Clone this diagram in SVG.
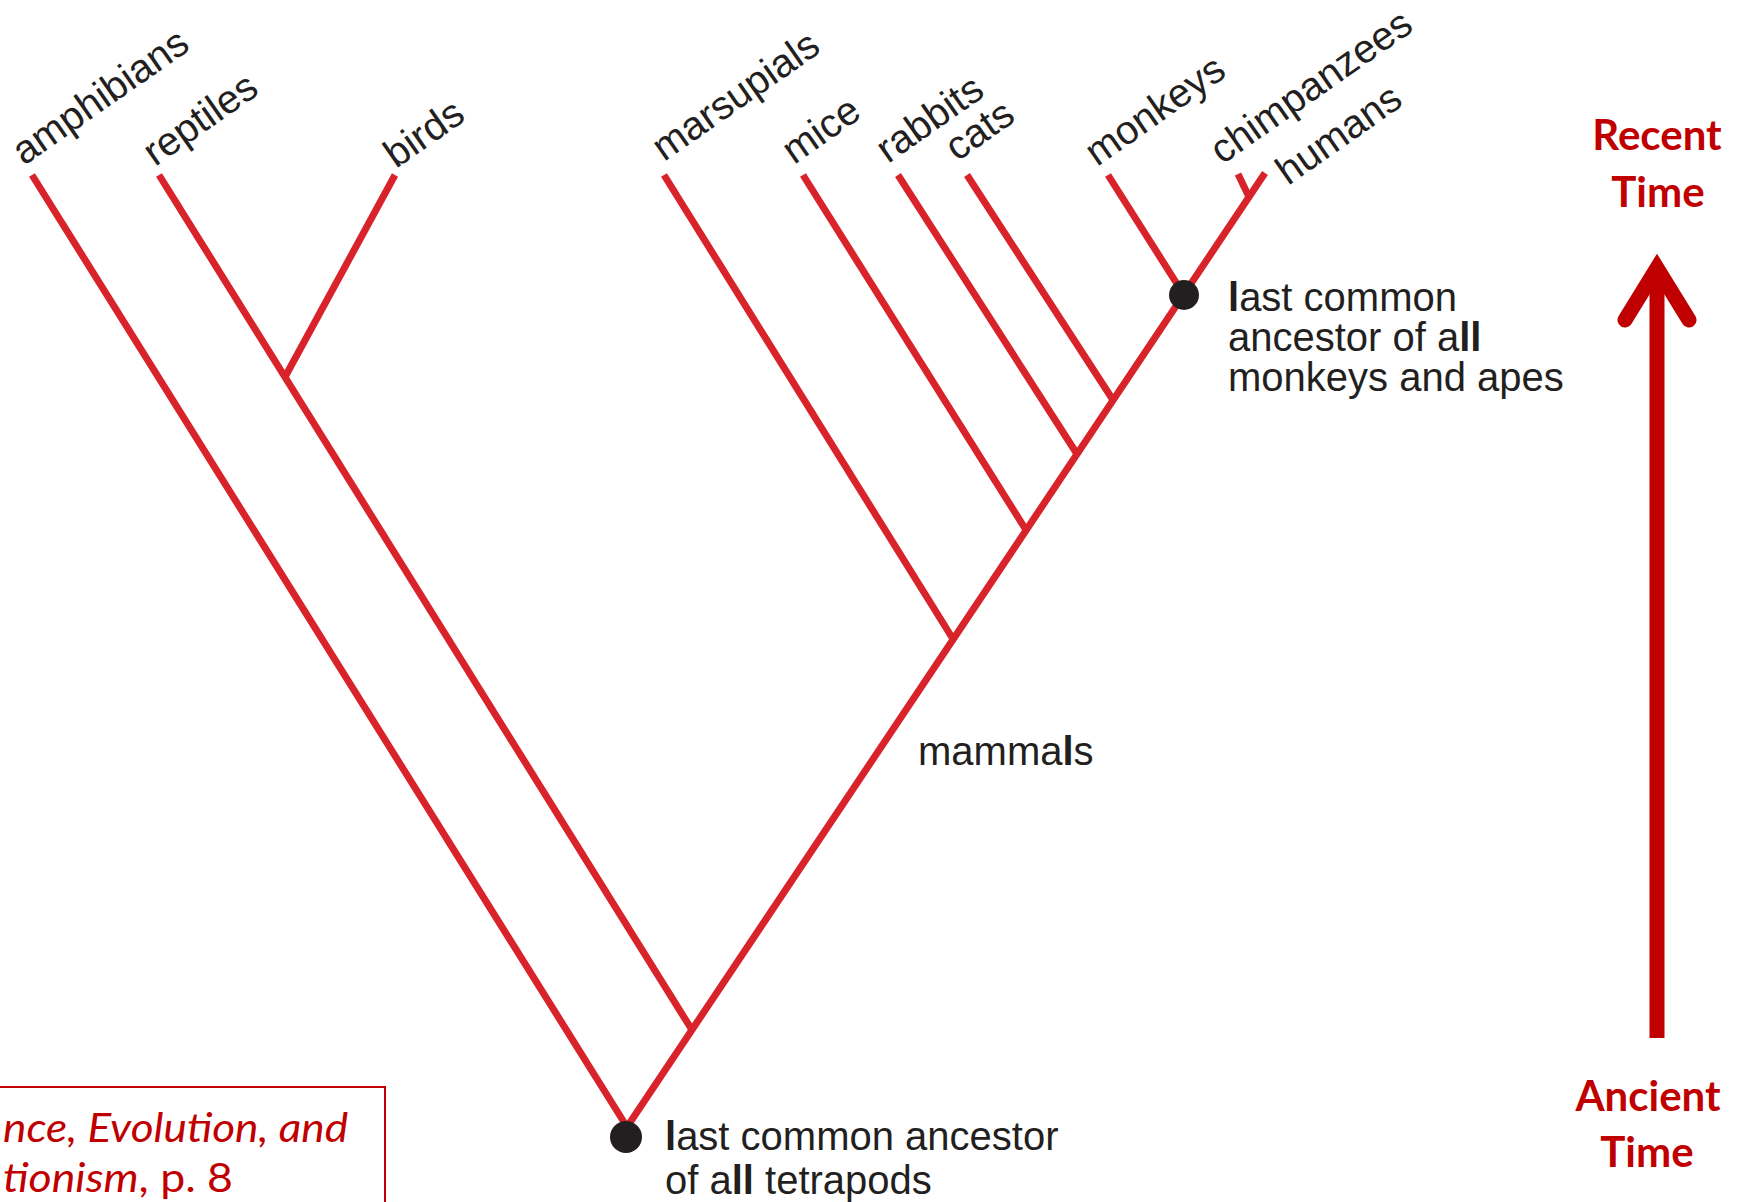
<svg xmlns="http://www.w3.org/2000/svg" width="1743" height="1202" viewBox="0 0 1743 1202">
<style>
.br{stroke:#D8232A;stroke-width:7;fill:none;stroke-linecap:butt}
.lb{font-family:"Liberation Sans",Arial,sans-serif;font-size:40px;fill:#231F20}
.b{font-weight:bold}
.dot{fill:#231F20}
.tm{font-family:Lato,"Open Sans",sans-serif;font-weight:bold;font-size:42px;fill:#C00000;text-anchor:middle}
.src{font-family:Lato,"Open Sans",sans-serif;font-size:40px;fill:#C00000}
</style>
<rect width="1743" height="1202" fill="#FFFFFF"/>
<g id="connectors">
<line class="br" x1="627" y1="1127" x2="1265" y2="173"/>
<line class="br" x1="627" y1="1127" x2="32" y2="175"/>
<line class="br" x1="692" y1="1030" x2="159" y2="175"/>
<line class="br" x1="285" y1="377" x2="395" y2="175"/>
<line class="br" x1="953" y1="639" x2="664" y2="175"/>
<line class="br" x1="1026" y1="530" x2="803" y2="175"/>
<line class="br" x1="1077" y1="454" x2="898" y2="175"/>
<line class="br" x1="1113" y1="400" x2="967" y2="175"/>
<line class="br" x1="1184" y1="295" x2="1108" y2="175"/>
<line class="br" x1="1249" y1="197" x2="1238" y2="174"/>
</g>
<g id="amphibians"><text class="lb" transform="translate(24,166) rotate(-35)">amphibians</text></g>
<g id="reptiles"><text class="lb" transform="translate(155,167) rotate(-35)">reptiles</text></g>
<g id="birds"><text class="lb" transform="translate(396,169) rotate(-35)">birds</text></g>
<g id="marsupials"><text class="lb" transform="translate(664,162) rotate(-35)">marsupials</text></g>
<g id="mice"><text class="lb" transform="translate(794,165) rotate(-35)">mice</text></g>
<g id="rabbits"><text class="lb" transform="translate(888,164) rotate(-35)">rabbits</text></g>
<g id="cats"><text class="lb" transform="translate(957,162) rotate(-35)">cats</text></g>
<g id="monkeys"><text class="lb" transform="translate(1097,167) rotate(-35)">monkeys</text></g>
<g id="chimpanzees"><text class="lb" transform="translate(1222,165) rotate(-35)">chimpanzees</text></g>
<g id="humans"><text class="lb" transform="translate(1288,186) rotate(-35)">humans</text></g>
<g id="primate-ancestor">
<circle class="dot" cx="1184" cy="295" r="15"/>
<text class="lb" x="1228" y="311"><tspan class="b">l</tspan>ast common</text>
<text class="lb" x="1228" y="351">ancestor of a<tspan class="b">ll</tspan></text>
<text class="lb" x="1228" y="391">monkeys and apes</text>
</g>
<g id="mammals"><text class="lb" x="918" y="765">mamma<tspan class="b">l</tspan>s</text></g>
<g id="tetrapod-ancestor">
<circle class="dot" cx="626" cy="1137" r="16"/>
<text class="lb" x="665" y="1150"><tspan class="b">l</tspan>ast common ancestor</text>
<text class="lb" x="665" y="1194">of a<tspan class="b">ll</tspan> tetrapods</text>
</g>
<g id="time-axis">
<line x1="1657" y1="1038" x2="1657" y2="272" stroke="#C00000" stroke-width="15"/>
<polyline points="1625,320 1657,268 1689,320" fill="none" stroke="#C00000" stroke-width="15" stroke-linecap="round" stroke-linejoin="miter"/>
</g>
<g id="recent-time">
<text class="tm" x="1657" y="150">Recent</text>
<text class="tm" x="1658" y="207">Time</text>
</g>
<g id="ancient-time">
<text class="tm" x="1648" y="1111">Ancient</text>
<text class="tm" x="1647" y="1167">Time</text>
</g>
<g id="source">
<rect x="-10" y="1087" width="395" height="130" fill="none" stroke="#C00000" stroke-width="2"/>
<text class="src" x="3" y="1142" font-style="italic" textLength="345" lengthAdjust="spacingAndGlyphs">nce, Evolution, and</text>
<text class="src" x="3" y="1192" textLength="230" lengthAdjust="spacingAndGlyphs"><tspan font-style="italic">tionism</tspan>, p. 8</text>
</g>
</svg>
